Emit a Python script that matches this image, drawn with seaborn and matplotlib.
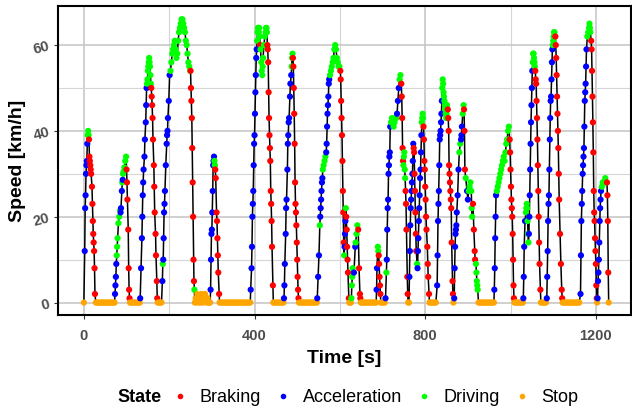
import matplotlib
matplotlib.use("Agg")
import matplotlib.pyplot as plt
from matplotlib.lines import Line2D
from matplotlib.ticker import MultipleLocator
import pandas as pd
import seaborn as sns

# Speed trace, (time [s], speed [km/h]) per state
accel_pts = [
    (2, 12), (3, 22), (4, 25), (5, 30), (6, 32), (7, 33), (8, 37),
    (73, 2), (74, 4), (75, 6), (76, 9), (86, 21), (87, 22), (89, 26), (91, 28.6),
    (132, 1), (134, 8), (136, 15), (137, 20), (138, 25), (139, 28), (140, 31),
    (142, 34), (143, 38), (145, 42), (146, 46), (147, 50),
    (184, 5), (186, 10), (187, 15), (188, 21), (189, 23), (190, 26), (192, 32),
    (194, 37), (195, 39), (196, 40), (197, 43), (199, 47), (201, 53),
    (297, 3), (298, 10), (299, 16), (300, 17), (301, 21), (302, 26), (303, 32),
    (304, 33), (305, 34),
    (391, 3), (393, 8), (394, 13), (395, 20), (396, 23), (397, 26), (398, 32),
    (399, 37), (400, 39), (401, 44), (402, 49), (403, 53), (404, 57), (405, 59),
    (469, 1), (470, 4), (471, 9), (473, 16), (474, 22), (475, 24), (477, 31),
    (478, 37), (479, 39), (480, 42), (481, 43), (483, 48), (484, 51), (486, 53),
    (547, 1), (549, 6), (551, 11), (554, 20), (555, 22), (556, 24), (557, 26),
    (558, 28), (559, 29), (568, 35), (569, 37), (570, 41), (571, 44), (572, 46),
    (573, 48), (574, 51), (575, 52), (611, 13), (612, 16), (613, 19),
    (633, 7), (636, 13),
    (686, 3), (687, 8),
    (707, 1), (710, 10), (711, 17), (712, 22), (713, 24), (714, 30), (715, 32),
    (716, 34), (717, 35), (718, 41), (734, 44), (736, 47), (738, 50),
    (763, 6), (764, 12), (765, 18), (766, 22), (767, 24), (768, 26), (769, 28),
    (770, 30), (771, 33), (772, 37), (782, 8), (783, 12), (784, 15), (785, 19),
    (786, 22), (787, 25), (788, 29), (789, 31), (790, 35), (791, 39),
    (828, 4), (829, 11), (830, 19), (831, 23), (832, 26), (833, 32), (834, 38),
    (835, 39), (836, 40), (837, 42), (838, 44), (839, 47),
    (868, 1), (869, 8), (870, 13), (871, 16), (872, 17), (873, 18), (874, 21),
    (876, 25), (878, 31), (884, 38), (885, 39), (886, 41), (898, 26), (900, 24),
    (962, 3), (963, 8), (964, 15), (965, 20), (966, 25),
    (1030, 1), (1031, 6), (1032, 13), (1034, 19), (1043, 16), (1044, 20),
    (1045, 25), (1046, 31), (1047, 37), (1048, 42), (1049, 46), (1050, 50),
    (1051, 54),
    (1085, 1), (1086, 6), (1087, 12), (1088, 19), (1089, 23), (1090, 25),
    (1091, 31), (1092, 38), (1093, 43), (1094, 47), (1095, 48), (1096, 52),
    (1097, 56), (1098, 59),
    (1164, 2), (1165, 11), (1166, 19), (1167, 23), (1168, 26), (1169, 30),
    (1170, 32), (1171, 34), (1172, 36), (1173, 41), (1174, 47), (1175, 49),
    (1176, 51), (1177, 55), (1178, 59),
    (1204, 1), (1205, 5), (1206, 7), (1207, 10), (1208, 14), (1209, 19),
    (1210, 22), (1211, 24), (1212, 26),
]

driving_pts = [
    (9, 39), (10, 40), (11, 39),
    (77, 11), (78, 13), (79, 15), (81, 18.5), (83, 20), (85, 21.5), (90, 28),
    (92, 30), (93, 30.5), (95, 31.5), (97, 33), (99, 34),
    (148, 51), (149, 52), (150, 54), (151, 55), (152, 56), (153, 57), (154, 56),
    (155, 55), (156, 53), (157, 51),
    (185, 9), (203, 54), (205, 56), (207, 58), (209, 59), (211, 60), (213, 61),
    (215, 59), (217, 57), (219, 58), (221, 61), (223, 63), (225, 64), (227, 65),
    (229, 66), (231, 66), (233, 65), (235, 64), (237, 63), (239, 61), (241, 60),
    (243, 58), (245, 56), (247, 55), (249, 54), (259, 3),
    (306, 33), (307, 32),
    (406, 61), (407, 63), (408, 64), (409, 64), (410, 63), (411, 64), (412, 62),
    (414, 59), (416, 56), (417, 54), (418, 53), (419, 55), (420, 57), (422, 60),
    (424, 62), (426, 63), (427, 64), (428, 64), (429, 63),
    (487, 55), (488, 57), (489, 58),
    (553, 18), (560, 31), (562, 32), (564, 33), (566, 34), (577, 53), (579, 54),
    (581, 55), (583, 56), (585, 57), (587, 59), (589, 60), (591, 59), (593, 57),
    (595, 56), (597, 55), (599, 55), (610, 11), (614, 22),
    (627, 1), (628, 4), (629, 6), (630, 8), (637, 14), (639, 16), (641, 18),
    (689, 13), (690, 12),
    (709, 7), (720, 42), (722, 43), (724, 42), (726, 41), (728, 42), (730, 43),
    (732, 43), (740, 52), (742, 53), (749, 32), (750, 34), (751, 35), (752, 31),
    (753, 29),
    (781, 9), (792, 42), (793, 43), (794, 44), (795, 43),
    (840, 50), (841, 52), (842, 51), (843, 49), (844, 48), (845, 47), (846, 46),
    (847, 45), (848, 44), (849, 43), (850, 44), (851, 46),
    (880, 35), (882, 37), (888, 44), (890, 46), (895, 29), (902, 26), (904, 27),
    (906, 28), (908, 26), (909, 22), (910, 20), (919, 9), (920, 7), (921, 5),
    (922, 4), (923, 3),
    (968, 26), (970, 27), (972, 28), (974, 29), (976, 30), (978, 31), (980, 32),
    (982, 33), (984, 34), (986, 33), (988, 35), (990, 37), (992, 38), (994, 40),
    (996, 41),
    (1036, 21), (1037, 22), (1038, 23), (1039, 22), (1040, 19), (1041, 16),
    (1042, 14), (1052, 56), (1053, 58), (1054, 58), (1055, 57), (1056, 56),
    (1057, 55),
    (1099, 60), (1100, 61), (1101, 62), (1102, 63), (1103, 63), (1104, 62),
    (1180, 62), (1182, 63), (1184, 64), (1185, 65), (1186, 64), (1187, 63),
    (1214, 27), (1216, 28), (1218, 28), (1220, 28), (1222, 29), (1224, 28),
]

braking_pts = [
    (12, 38), (13, 34), (14, 33), (15, 32), (16, 31), (17, 30), (19, 27),
    (20, 23), (21, 19), (22, 16), (23, 14), (24, 12), (25, 8), (26, 2),
    (100, 31), (101, 28), (102, 24), (104, 17), (105, 8), (106, 3), (107, 1),
    (158, 50), (159, 48), (160, 46), (161, 43), (162, 38), (164, 32), (165, 27),
    (166, 21), (168, 16), (169, 11), (171, 5), (172, 1),
    (250, 54), (251, 50), (252, 47), (253, 43), (254, 36), (255, 28), (256, 20),
    (257, 10), (258, 5),
    (308, 31), (309, 29), (311, 21), (312, 19), (313, 15), (314, 11), (315, 7),
    (317, 2),
    (413, 60), (430, 60), (431, 59), (432, 56), (433, 49), (434, 43), (435, 39),
    (436, 36), (437, 33), (438, 26), (439, 23), (440, 19), (441, 13), (443, 4),
    (490, 57), (491, 55), (492, 50), (493, 44), (494, 37), (495, 28), (496, 23),
    (497, 21), (498, 18), (499, 14), (500, 10), (501, 6), (502, 3), (503, 1),
    (601, 54), (602, 52), (603, 47), (604, 43), (605, 39), (606, 33), (607, 26),
    (608, 21), (609, 14), (615, 20), (616, 17), (617, 13), (618, 10), (619, 7),
    (621, 1),
    (643, 17), (645, 8), (647, 2), (648, 1),
    (691, 11), (692, 9), (693, 6), (694, 4), (695, 2),
    (744, 51), (745, 48), (746, 43), (747, 36), (748, 33), (754, 26), (755, 23),
    (756, 17), (758, 6), (759, 2),
    (773, 36), (774, 35), (775, 30), (776, 26), (777, 21), (778, 16), (779, 12),
    (796, 41), (797, 38), (798, 33), (799, 31), (800, 27), (801, 24), (802, 20),
    (803, 17), (805, 13), (806, 9), (807, 6), (809, 2),
    (853, 45), (854, 43), (855, 40), (856, 32), (857, 30), (858, 28), (859, 26),
    (860, 24), (861, 22), (862, 14), (864, 5), (865, 2),
    (891, 45), (892, 40), (893, 31), (912, 23), (914, 17), (916, 12), (917, 10),
    (998, 38), (999, 35), (1000, 31), (1001, 27), (1002, 24), (1003, 22),
    (1004, 20), (1005, 16), (1006, 10), (1007, 4), (1008, 1),
    (1058, 54), (1059, 52), (1060, 51), (1061, 47), (1062, 43), (1063, 38),
    (1064, 32), (1065, 26), (1066, 20), (1067, 14), (1068, 9), (1070, 3),
    (1105, 62), (1106, 60), (1107, 57), (1108, 53), (1109, 48), (1110, 44),
    (1111, 40), (1112, 36), (1113, 30), (1114, 24), (1116, 16), (1118, 9),
    (1120, 3), (1121, 1),
    (1189, 61), (1190, 59), (1191, 54), (1192, 48), (1193, 42), (1194, 35),
    (1195, 26), (1196, 21), (1197, 19), (1198, 15), (1199, 12), (1200, 9),
    (1201, 4), (1202, 1),
    (1226, 28), (1227, 25), (1228, 19), (1229, 7),
]

stop_pts = [
    (0, 0),
    (28, 0), (31, 0), (34, 0), (37, 0), (40, 0), (43, 0), (46, 0), (49, 0),
    (52, 0), (55, 0), (58, 0), (61, 0), (64, 0), (67, 0), (70, 0), (72, 0),
    (108, 0), (111, 0), (114, 0), (117, 0), (120, 0), (123, 0), (126, 0),
    (129, 0), (131, 0),
    (173, 0), (176, 0), (179, 0), (182, 0),
    (260, 0), (262, 1), (264, 0), (266, 2), (268, 1), (270, 0), (272, 1.5),
    (274, 0), (276, 2), (278, 1), (280, 0), (282, 1), (284, 2), (286, 1),
    (288, 0), (290, 1), (292, 0), (294, 0), (296, 0),
    (318, 0), (321, 0), (324, 0), (327, 0), (330, 0), (333, 0), (336, 0),
    (339, 0), (342, 0), (345, 0), (348, 0), (351, 0), (354, 0), (357, 0),
    (360, 0), (363, 0), (366, 0), (369, 0), (372, 0), (375, 0), (378, 0),
    (381, 0), (384, 0), (387, 0), (390, 0),
    (444, 0), (447, 0), (450, 0), (453, 0), (456, 0), (459, 0), (462, 0),
    (465, 0), (468, 0),
    (504, 0), (507, 0), (510, 0), (513, 0), (516, 0), (519, 0), (522, 0),
    (525, 0), (528, 0), (531, 0), (534, 0), (537, 0), (540, 0), (543, 0),
    (546, 0),
    (622, 0), (624, 0), (626, 0),
    (649, 0), (652, 0), (655, 0), (658, 0), (661, 0), (664, 0), (667, 0),
    (670, 0), (673, 0), (676, 0), (679, 0), (682, 0), (685, 0),
    (696, 0), (699, 0), (702, 0), (705, 0),
    (760, 0), (762, 0),
    (810, 0), (813, 0), (816, 0), (819, 0), (822, 0), (825, 0),
    (866, 0),
    (925, 0), (928, 0), (931, 0), (934, 0), (937, 0), (940, 0), (943, 0),
    (946, 0), (949, 0), (952, 0), (955, 0), (958, 0), (961, 0),
    (1009, 0), (1012, 0), (1015, 0), (1018, 0), (1021, 0), (1024, 0),
    (1027, 0), (1029, 0),
    (1071, 0), (1074, 0), (1077, 0), (1080, 0), (1083, 0),
    (1122, 0), (1125, 0), (1128, 0), (1131, 0), (1134, 0), (1137, 0),
    (1140, 0), (1143, 0), (1146, 0), (1149, 0), (1152, 0), (1155, 0),
    (1158, 0), (1161, 0),
    (1203, 0), (1230, 0),
]

STATE_ORDER = ["Braking", "Acceleration", "Driving", "Stop"]
STATE_COLORS = {
    "Braking": "#ff0000",
    "Acceleration": "#0000ff",
    "Driving": "#00ff00",
    "Stop": "#ffa500",
}


def to_frame(points, label):
    df = pd.DataFrame(points, columns=["time", "speed"])
    df["state"] = label
    return df


def main():
    data = pd.concat([
        to_frame(braking_pts, "Braking"),
        to_frame(accel_pts, "Acceleration"),
        to_frame(driving_pts, "Driving"),
        to_frame(stop_pts, "Stop"),
    ]).sort_values("time").reset_index(drop=True)

    sns.set_theme(style="white")
    plt.rcParams["font.family"] = ["Liberation Sans", "DejaVu Sans"]
    plt.rcParams["text.color"] = "black"
    plt.rcParams["axes.labelcolor"] = "black"

    fig = plt.figure(figsize=(6.32, 4.12), dpi=100)
    ax = fig.add_axes([0.0922, 0.2354, 0.906, 0.75])

    # black trace under the coloured samples
    sns.lineplot(data=data, x="time", y="speed", color="black", lw=1.1,
                 estimator=None, sort=True, ax=ax, zorder=2)
    sns.scatterplot(data=data, x="time", y="speed", hue="state",
                    hue_order=STATE_ORDER, palette=STATE_COLORS, s=20,
                    linewidth=0, legend=False, ax=ax, zorder=3)

    ax.set_xlim(-60, 1282)
    ax.set_ylim(-2.9, 69.1)
    ax.xaxis.set_major_locator(MultipleLocator(400))
    ax.xaxis.set_minor_locator(MultipleLocator(200))
    ax.yaxis.set_major_locator(MultipleLocator(20))
    ax.yaxis.set_minor_locator(MultipleLocator(10))
    ax.grid(which="major", color="#c4c4c4", lw=1.1)
    ax.grid(which="minor", color="#d6d6d6", lw=0.8)
    ax.set_axisbelow(True)

    ax.tick_params(which="major", length=3, width=0.8, color="#333333",
                   labelcolor="#4d4d4d", labelsize=10.5, bottom=True, left=True)
    ax.tick_params(axis="x", pad=7)
    ax.tick_params(axis="y", pad=2)
    ax.tick_params(which="minor", length=0)
    for lab in ax.get_xticklabels() + ax.get_yticklabels():
        lab.set_fontweight("bold")
    for lab in ax.get_yticklabels():
        lab.set_rotation(15)

    for spine in ax.spines.values():
        spine.set_visible(True)
        spine.set_color("black")
        spine.set_linewidth(1.5)

    ax.set_xlabel("Time [s]", fontsize=14, fontweight="bold", labelpad=5)
    ax.set_ylabel("Speed [km/h]", fontsize=14, fontweight="bold", labelpad=4)

    # legend along the bottom: bold title, then the four states
    fig.text(117 / 632, 0.034, "State", fontsize=13, fontweight="bold",
             va="center", ha="left")
    handles = [Line2D([], [], marker="o", ls="", color=STATE_COLORS[s],
                      markersize=4, markeredgewidth=0) for s in STATE_ORDER]
    fig.legend(handles, STATE_ORDER, loc="center left",
               bbox_to_anchor=(171 / 632, 0.034), ncol=4, frameon=False,
               handlelength=1.0, handletextpad=0.6, columnspacing=0.7,
               borderpad=0, borderaxespad=0, fontsize=13)

    fig.savefig("out.png", dpi=100)
    plt.close(fig)


if __name__ == "__main__":
    main()
